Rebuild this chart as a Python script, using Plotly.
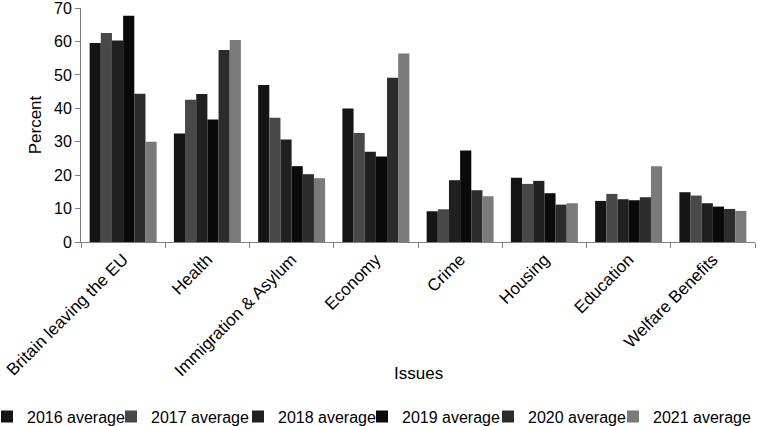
import plotly.graph_objects as go

categories = ["Britain leaving the EU", "Health", "Immigration & Asylum", "Economy",
              "Crime", "Housing", "Education", "Welfare Benefits"]
series_names = ["2016 average", "2017 average", "2018 average",
                "2019 average", "2020 average", "2021 average"]
v2016 = [59.6, 32.5, 47.0, 40.0, 9.2, 19.2, 12.3, 14.9]
v2017 = [62.6, 42.6, 37.2, 32.6, 9.8, 17.4, 14.4, 13.9]
v2018 = [60.3, 44.3, 30.7, 27.0, 18.5, 18.3, 12.8, 11.6]
v2019 = [67.7, 36.7, 22.7, 25.6, 27.4, 14.6, 12.5, 10.6]
v2020 = [44.4, 57.5, 20.3, 49.2, 15.5, 11.2, 13.4, 9.9]
v2021 = [30.0, 60.5, 19.1, 56.4, 13.7, 11.6, 22.7, 9.3]
y_ticks = [0, 10, 20, 30, 40, 50, 60, 70]

series_values = [v2016, v2017, v2018, v2019, v2020, v2021]
colors = ["#141414", "#484848", "#202020", "#0a0a0a", "#2c2c2c", "#7a7a7a"]

FONT = "Liberation Sans, Arial, sans-serif"
W, H = 757, 426
ML, MR, MT, MB = 81, 2, 8, 184
plot_w = W - ML - MR

# horizontal positions (px) of each legend entry's start, one legend per series
legend_px = [-13, 111, 238, 362, 488, 613]

fig = go.Figure()
layout_legends = {}
for i, (name, vals, col) in enumerate(zip(series_names, series_values, colors)):
    lname = "legend" if i == 0 else f"legend{i + 1}"
    fig.add_trace(go.Bar(x=categories, y=vals, name=name, legend=lname,
                         marker=dict(color=col, line=dict(width=0))))
    layout_legends[lname] = dict(
        orientation="h", x=(legend_px[i] - ML) / plot_w, xanchor="left",
        y=-0.673, yanchor="top", font=dict(size=16), itemwidth=30,
        bgcolor="rgba(0,0,0,0)")

fig.update_layout(
    width=W, height=H,
    margin=dict(l=ML, r=MR, t=MT, b=MB, autoexpand=False),
    barmode="group", bargap=0.205, bargroupgap=0,
    plot_bgcolor="white", paper_bgcolor="white",
    font=dict(family=FONT, size=17, color="black"),
    showlegend=True,
    annotations=[dict(text="Issues", xref="paper", yref="paper", x=0.5, y=-0.562,
                      xanchor="center", yanchor="middle", showarrow=False,
                      font=dict(size=17))],
    **layout_legends,
)
fig.update_xaxes(
    showline=True, linecolor="#808080", linewidth=1,
    ticks="outside", tickson="boundaries", ticklen=5, tickcolor="#808080",
    tickangle=-45, showgrid=False, tickfont=dict(size=17), automargin=False,
)
fig.update_yaxes(
    range=[0, 70.05], tickvals=y_ticks, showline=True, linecolor="#808080", linewidth=1,
    ticks="outside", ticklen=5, tickcolor="#808080", showgrid=False, zeroline=False,
    ticklabeloverflow="allow",
    title=dict(text="Percent", standoff=8, font=dict(size=17)),
    tickfont=dict(size=16), automargin=False,
)

fig.write_html("out.html", config={"displayModeBar": False},
               post_script="document.body.style.margin='0';document.body.style.overflow='hidden';")
